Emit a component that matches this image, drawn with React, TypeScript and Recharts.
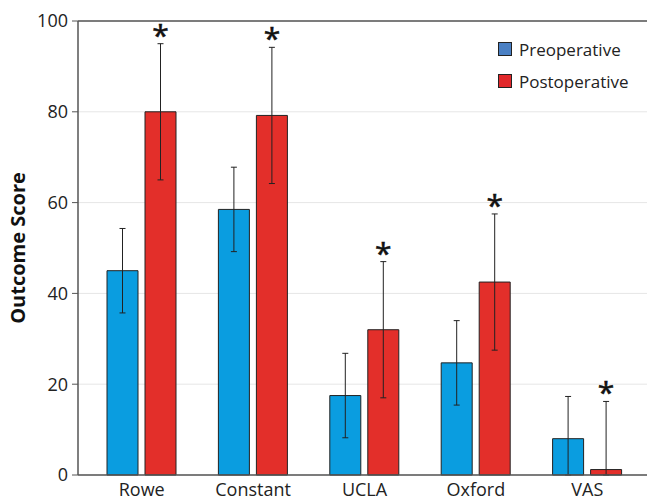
import { BarChart, Bar, XAxis, YAxis, CartesianGrid, ErrorBar, LabelList, ReferenceLine } from 'recharts'

const categories = ['Rowe', 'Constant', 'UCLA', 'Oxford', 'VAS']
const preoperative = [45, 58.5, 17.5, 24.7, 8]
const postoperative = [80, 79.2, 32, 42.5, 1.2]
// [below, above]; VAS lower whiskers stop at zero
const preError = [[9.3, 9.3], [9.3, 9.3], [9.3, 9.3], [9.3, 9.3], [8, 9.3]]
const postError = [[15, 15], [15, 15], [15, 15], [15, 15], [1.2, 15]]
const significant = [true, true, true, true, true]
const yTicks = [0, 20, 40, 60, 80, 100]

const data = categories.map((name, i) => ({
    name,
    pre: preoperative[i],
    post: postoperative[i],
    preErr: preError[i],
    postErr: postError[i],
    star: significant[i] ? '*' : '',
}))

const FONT = "'Open Sans', sans-serif"

function Asterisk(props: any) {
    const { x, y, width, height, value, index } = props
    if (!value) return null
    const v = postoperative[index]
    const pxPerUnit = height / v
    const top = y - postError[index][1] * pxPerUnit
    return (
        <text x={x + width / 2} y={top + 2} textAnchor="middle" fontSize={30} fill="#111" stroke="#111" strokeWidth={0.6} fontFamily={FONT}>
            {value}
        </text>
    )
}

function LegendBox() {
    const items = [
        { label: 'Preoperative', color: '#4a80c4' },
        { label: 'Postoperative', color: '#e1282b' },
    ]
    return (
        <div style={{ position: 'absolute', left: 498, top: 33, fontFamily: FONT, fontSize: 17, color: '#222' }}>
            {items.map((it) => (
                <div key={it.label} style={{ display: 'flex', alignItems: 'center', height: 32 }}>
                    <span style={{ width: 12, height: 12, background: it.color, border: '1px solid #222', marginRight: 7 }} />
                    {it.label}
                </div>
            ))}
        </div>
    )
}

function App() {
    return (
        <div style={{ position: 'absolute', left: 0, top: 0, width: 647, height: 502, background: '#fff' }}>
            <BarChart width={647} height={502} data={data} barSize={31} barGap={7} margin={{ top: 21, right: 0, left: 0, bottom: 0 }} style={{ fontFamily: FONT }}>
                <CartesianGrid stroke="#e6e6e6" vertical={false} />
                <XAxis dataKey="name" height={27} padding={{ left: 8, right: 4 }} tickLine={false} axisLine={{ stroke: '#555', strokeWidth: 1.5 }} tick={{ fontSize: 18, fill: '#222' }} />
                <YAxis
                    width={78}
                    domain={[0, 100]}
                    ticks={yTicks}
                    tickSize={6}
                    tickMargin={4}
                    axisLine={{ stroke: '#555', strokeWidth: 1.5 }}
                    tickLine={{ stroke: '#555' }}
                    tick={{ fontSize: 18, fill: '#222' }}
                    label={{ value: 'Outcome Score', angle: -90, position: 'insideLeft', offset: 18, style: { textAnchor: 'middle', fontSize: 20, fontWeight: 'bold', fill: '#111' } }}
                />
                <ReferenceLine y={100} stroke="#555" strokeWidth={1.5} />
                <Bar dataKey="pre" fill="#0a9de0" stroke="#222" strokeWidth={1} isAnimationActive={false}>
                    <ErrorBar dataKey="preErr" width={3} stroke="#222" strokeWidth={1} />
                </Bar>
                <Bar dataKey="post" fill="#e32f2a" stroke="#222" strokeWidth={1} isAnimationActive={false}>
                    <ErrorBar dataKey="postErr" width={3} stroke="#222" strokeWidth={1} />
                    <LabelList dataKey="star" content={Asterisk} />
                </Bar>
            </BarChart>
            <LegendBox />
        </div>
    )
}

export default App
